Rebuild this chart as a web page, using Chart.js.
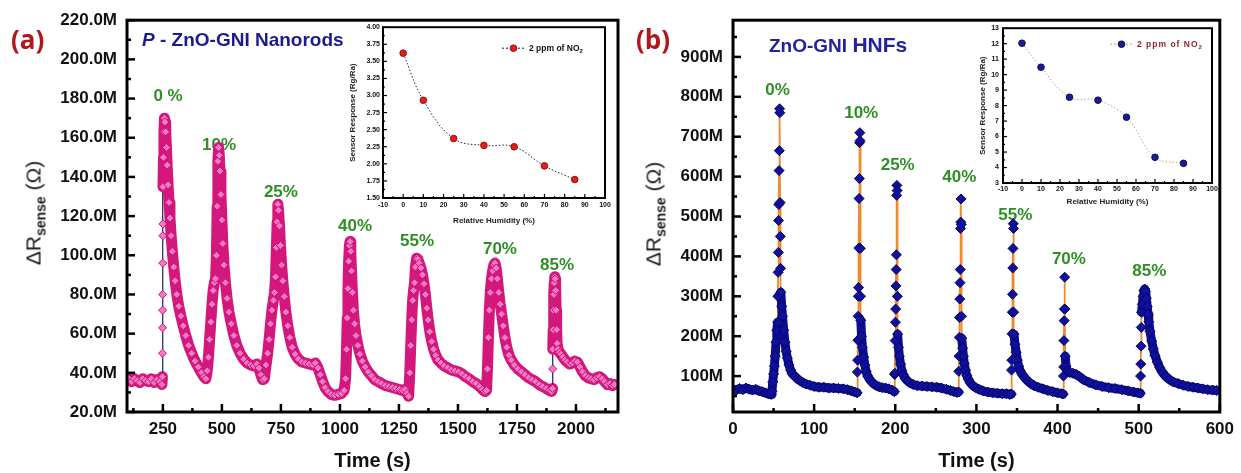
<!DOCTYPE html>
<html>
<head>
<meta charset="utf-8">
<title>Sensor response vs humidity</title>
<script src="https://cdn.jsdelivr.net/npm/chart.js@4.4.1/dist/chart.umd.min.js"></script>
<style>
  body { margin: 0; background: #fff; }
  #page { position: relative; width: 1241px; height: 473px; overflow: hidden; font-family: "Liberation Sans", Arial, sans-serif; }
  canvas { position: absolute; }
  .tag { position: absolute; font-family: "Open Sans", sans-serif; font-weight: 700; font-size: 26px; color: #b3151b; line-height: 1; }
  .title { position: absolute; font-weight: 700; white-space: nowrap; line-height: 1; }
  .ytitle { position: absolute; transform: translate(-50%, -50%) rotate(-90deg); white-space: nowrap; font-size: 21px; color: #1a1a1a; line-height: 1; }
  .ytitle sub { font-size: 14px; font-weight: 700; vertical-align: -5px; }
</style>
</head>
<body>
<div id="page">
  <canvas id="mainA" width="622" height="473" style="left:0;top:0"></canvas>
  <canvas id="mainB" width="619" height="473" style="left:622px;top:0"></canvas>
  <canvas id="insetA" width="275" height="215" style="left:340px;top:20px"></canvas>
  <canvas id="insetB" width="270" height="195" style="left:955px;top:20px"></canvas>

  <div class="tag" style="left:11px;top:26px">(a)</div>
  <div class="tag" style="left:636px;top:26px">(b)</div>
  <div class="title" style="left:142px;top:30px;font-size:19px;color:#1b1b8c"><i>P</i> - ZnO-GNI Nanorods</div>
  <div class="title" style="left:769px;top:34px;color:#2222a0"><span style="font-size:19px">ZnO-GNI </span><span style="font-size:21px">HNFs</span></div>
  <div class="ytitle" style="left:35px;top:213px">&Delta;R<sub>sense</sub> (&Omega;)</div>
  <div class="ytitle" style="left:655px;top:214px">&Delta;R<sub>sense</sub> (&Omega;)</div>
</div>

<script>
// ---- panel (a): P-ZnO-GNI nanorods, [time s, dR MOhm] ----
const traceA = [
  [105,37],[117,35.5],[129,37],[141,36],[153,35],[165,37],[177,36],[189,35.5],[201,37],[213,35],[225,36.5],[237,35.5],[246,34],
  [248,38],[248.3,50],[248.6,63],[248.9,72],[249.2,80],[249.5,96],[249.8,110],[250.1,116],[250.4,135],
  [252.5,150],[254.5,163],[256.5,170],[259,168],[262,163],[265,155],[268,146],[272,136],[276,127],[280,119],[285,110],[290,102],[296,94],[302,87],[309,80],[317,74],[326,69],[336,64],[347,59],[359,54],[372,50],[386,46],[400,43],[413,40],[424,38],[432,37],
  [438,41],[443,48],[448,57],[453,66],[458,75],[463,82],[468,86],[473,88],[477,100],[480,125],[483,148],[486,155],[489,151],[492,143],[496,131],[500,118],[504,106],[509,95],[515,86],[522,78],[530,71],[540,65],[551,59],[563,54],[577,50],[592,47],[607,45],[622,44],[636,43.5],[648,44.5],[657,42.5],[665,39],[673,36.5],[680,37],
  [687,44],[694,50],[700,57],[706,65],[712,72],[718,77],[723,81],[727,89],[731,104],[734,117],[737,126],[740,123],[744,115],[748,105],[753,95],[758,87],[764,79],[771,71],[779,64],[788,58],[798,53],[810,49.5],[824,47],[839,45.5],[854,45],[869,44.5],[884,44],[896,45],[907,42.5],[917,39],[927,35.5],[937,32.5],[949,30.5],[963,29],[978,28.5],[993,29],[1007,29.5],[1018,31],
  [1024,37],[1028,52],[1031,68],[1034,83],[1037,97],[1040,105],[1043,107],[1046,102],[1049,92],[1053,81],[1057,72],[1062,65],[1068,59],[1076,54],[1085,49.5],[1095,46],[1107,43],[1120,40.5],[1134,38.5],[1148,36.5],[1162,35.5],[1177,34.5],[1192,33.5],[1207,33],[1222,32.5],[1237,32],[1252,31.5],[1265,31],[1276,31.5],[1284,29.5],[1291,28],
  [1296,40],[1300,54],[1304,67],[1308,77],[1312,82],[1316,86],[1320,94],[1325,98.5],[1330,98],[1336,96],[1343,93.5],[1350,90],[1356,85.5],[1362,80],[1368,73],[1374,67],[1381,61],[1389,56],[1397,52],[1406,49],[1416,46.5],[1428,45],[1442,43.5],[1457,42.5],[1472,41.5],[1487,41],[1502,40.5],[1517,39.5],[1532,38],[1547,37],[1562,35.5],[1577,34.5],[1592,33],[1604,31.5],[1614,30.5],[1621,31],
  [1625,42],[1629,58],[1633,72],[1637,81],[1642,88],[1647,92],[1652,95],[1657,96],[1662,93.5],[1667,88],[1673,81],[1679,75],[1685,70],[1692,64],[1699,58],[1707,53],[1716,49],[1726,46.5],[1739,44],[1754,42],[1769,40.5],[1784,39],[1799,37.5],[1814,36.5],[1829,35.5],[1844,34],[1859,33],[1874,32],[1887,31],[1897,30.5],
  [1901,32],[1901.3,42],[1901.6,52],
  [1903.5,62],[1905,72],[1906.5,80],[1908,86],[1910,89],[1912,88],[1914,82],[1916,72],[1918,62],[1920,55],[1924,52],[1930,50.5],[1937,49.5],[1945,48],[1954,46.5],[1963,45.5],[1973,44.5],[1984,45],[1995,46],[2006,45.5],[2017,43],[2028,40.5],[2040,38.5],[2052,37.5],[2064,37],[2076,36.5],[2088,37.5],[2100,38],[2111,37],[2122,35.5],[2133,34],[2144,34.5],[2155,33.5],[2163,34]
];

// ---- panel (b): ZnO-GNI HNFs, [time s, dR MOhm] ----
const traceB = [
  [0,67],[4,65],[8,69],[12,66],[16,70],[20,67],[24,65],[28,67],[32,63],[36,61],[40,58],[44,55],[47,54],
  [48,62],[49,85],[50,105],[51,125],[52,150],[53,185],[54,215],[55,235],
  [55.3,300],[55.6,360],[55.9,410],[56.2,490],[56.5,530],[56.8,615],[57.1,665],[57.4,770],[57.7,760],[58,535],[58.3,450],[58.6,370],[58.9,310],
  [60,275],[61,250],[62.5,215],[64,185],[65.5,162],[67,145],[69,128],[71,115],[73,106],[76,100],[79,94],[82,89],[86,84],[90,80],[95,77],[100,74],[106,72],[112,72],[118,70],[124,70],[130,69],[136,68],[141,66],[146,63],[150,60],[153,58],
  [153.3,110],[153.6,140],[153.9,190],[154.2,250],[154.5,300],[154.8,322],[155.1,421],[155.4,545],[155.7,595],[156,685],[156.3,710],[156.6,690],[156.9,420],[157.2,300],[157.5,240],
  [158.5,200],[159.5,172],[161,148],[162.5,128],[164,112],[166,100],[169,90],[172,83],[176,77],[180,73],[184,71],[188,70],[192,68],[196,65],[199,61],
  [199.3,104],[199.6,107],[199.9,189],[200.2,235],[200.5,268],[200.8,326],[201.1,367],[201.4,404],[201.7,553],[202,578],[202.3,565],[202.6,300],[202.9,205],
  [204,172],[205,150],[206.5,130],[208,114],[210,103],[212,95],[215,88],[218,83],[222,79],[227,76],[233,75],[239,74],[245,73],[251,72],[257,70],[263,67],[268,64],[272,61],[276,59],[278,60],
  [278.3,112],[278.6,150],[278.9,197],[279.2,247],[279.5,293],[279.8,334],[280.1,367],[280.4,470],[280.7,486],[281,544],[281.3,480],[281.6,250],[281.9,195],
  [283,170],[284,150],[285,132],[286.5,115],[288,102],[290,92],[292.5,83],[295.5,76],[299,71],[303,67],[308,63],[314,60],[320,58],[326,57],[332,56],[337,56],[341,54],[343,55],
  [343.3,115],[343.6,140],[343.9,206],[344.2,260],[344.5,305],[344.8,371],[345.1,420],[345.4,482],[345.7,470],[346,260],[346.3,205],
  [347.5,180],[349,160],[350.5,140],[352,125],[354,113],[356.5,104],[359.5,96],[363,88],[367,81],[371,76],[376,72],[382,68],[388,64],[394,61],[400,58],[405,56],[407,55],
  [407.3,100],[407.6,123],[407.9,189],[408.2,239],[408.5,268],[408.8,348],[409.1,268],[409.4,150],
  [410.5,125],[412,113],[415,109],[419,107],[423,104],[427,99],[432,91],[439,84],[447,78],[455,74],[463,71],[471,69],[479,66],[487,63],[494,60],[499,58],[502,57],
  [502.3,100],[502.6,130],[502.9,175],[503.2,222],[503.5,260],
  [504.5,280],[505.5,300],[506.5,314],[507.5,318],[508.5,312],[509.5,295],[510.5,275],[511.5,255],[512.5,236],[514,212],[516,188],[518,168],[520,152],[523,135],[526,121],[529,110],[533,100],[538,91],[543,85],[549,81],[555,77],[561,74],[567,72],[573,70],[579,68],[585,66],[591,65],[596,64]
];

// humidity labels placed over the peaks (time, value)
const rhTextA = ['0 %', '10%', '25%', '40%', '55%', '70%', '85%'];
const rhTimeA = [272, 488, 750, 1064, 1327, 1678, 1920];
const rhValA = [181, 156, 132, 115, 107, 103, 95];
const rhTextB = ['0%', '10%', '25%', '40%', '55%', '70%', '85%'];
const rhTimeB = [55, 158, 203, 279, 348, 414, 513];
const rhValB = [816, 759, 628, 598, 504, 392, 363];

// insets: sensor response vs relative humidity
const humidity = [0, 10, 25, 40, 55, 70, 85];
const respA = [3.62, 2.93, 2.37, 2.27, 2.25, 1.97, 1.77];
const respB = [12.03, 10.48, 8.54, 8.35, 7.25, 4.66, 4.27];
const legendText = '2 ppm of NO';

// tick labels
const yTicksA = [20, 40, 60, 80, 100, 120, 140, 160, 180, 200, 220];
const xTicksA = [250, 500, 750, 1000, 1250, 1500, 1750, 2000];
const yTicksB = [100, 200, 300, 400, 500, 600, 700, 800, 900];
const xTicksB = [0, 100, 200, 300, 400, 500, 600];
const xTicksIn = [-10, 0, 10, 20, 30, 40, 50, 60, 70, 80, 90, 100];
const yTicksInA = [1.5, 1.75, 2, 2.25, 2.5, 2.75, 3, 3.25, 3.5, 3.75, 4];
const yTicksInB = [3, 4, 5, 6, 7, 8, 9, 10, 11, 12, 13];

const FAMILY = '"Liberation Sans", Arial, sans-serif';
Chart.defaults.font.family = FAMILY;
Chart.defaults.color = '#111';
Chart.defaults.animation = false;

// majors plus a minor tick half way between them
function withMinor(majors, min, max) {
  const step = majors[1] - majors[0];
  const minors = majors.map(v => v - step / 2).concat(majors[majors.length - 1] + step / 2);
  return majors.concat(minors).filter(v => v >= min - 1e-9 && v <= max + 1e-9).sort((a, b) => a - b);
}

function axis(min, max, majors, fmt, font, pad, extra) {
  return Object.assign({
    type: 'linear', min, max,
    grid: { display: false, drawTicks: false },
    border: { display: false },
    afterBuildTicks: s => { s.ticks = withMinor(majors, min, max).map(v => ({ value: v })); },
    ticks: {
      autoSkip: false, maxRotation: 0, padding: pad, font, color: '#111',
      callback: v => majors.some(m => Math.abs(m - v) < 1e-6) ? fmt(v) : ''
    }
  }, extra);
}

// box frame with inward ticks on bottom and left
function frame(lw, tw, major, minor) {
  return {
    id: 'frame',
    afterDraw(chart) {
      const { ctx, chartArea: a, scales: { x, y } } = chart;
      ctx.save();
      ctx.strokeStyle = '#000';
      ctx.lineWidth = tw;
      x.ticks.forEach(t => {
        const px = x.getPixelForValue(t.value);
        ctx.beginPath(); ctx.moveTo(px, a.bottom); ctx.lineTo(px, a.bottom - (t.label ? major : minor)); ctx.stroke();
      });
      y.ticks.forEach(t => {
        const py = y.getPixelForValue(t.value);
        ctx.beginPath(); ctx.moveTo(a.left, py); ctx.lineTo(a.left + (t.label ? major : minor), py); ctx.stroke();
      });
      ctx.lineWidth = lw;
      ctx.strokeRect(a.left, a.top, a.right - a.left, a.bottom - a.top);
      ctx.restore();
    }
  };
}

function rhLabels(text, ts, vs) {
  return {
    id: 'rhLabels',
    beforeDatasetsDraw(chart) {
      const { ctx, scales: { x, y } } = chart;
      ctx.save();
      ctx.font = 'bold 17px ' + FAMILY;
      ctx.fillStyle = '#2f8f25';
      ctx.textAlign = 'center';
      ctx.textBaseline = 'middle';
      text.forEach((s, i) => ctx.fillText(s, x.getPixelForValue(ts[i]), y.getPixelForValue(vs[i])));
      ctx.restore();
    }
  };
}

function insetLegend(dx, dy, lineColor, textColor, spacing) {
  return {
    id: 'insetLegend',
    afterDraw(chart) {
      const { ctx, chartArea: a } = chart;
      const ds = chart.data.datasets[0];
      const x0 = a.left + dx, y0 = a.top + dy, len = 23;
      ctx.save();
      ctx.strokeStyle = lineColor;
      ctx.lineWidth = 1;
      ctx.setLineDash([2, 2]);
      ctx.beginPath(); ctx.moveTo(x0, y0); ctx.lineTo(x0 + len, y0); ctx.stroke();
      ctx.setLineDash([]);
      ctx.beginPath(); ctx.arc(x0 + len / 2, y0, ds.pointRadius, 0, Math.PI * 2);
      ctx.fillStyle = ds.pointBackgroundColor; ctx.fill();
      ctx.strokeStyle = ds.pointBorderColor; ctx.stroke();
      ctx.fillStyle = textColor;
      ctx.font = 'bold 8.5px ' + FAMILY;
      ctx.letterSpacing = spacing;
      ctx.textBaseline = 'middle';
      ctx.fillText(legendText, x0 + len + 4, y0);
      const w = ctx.measureText(legendText).width;
      ctx.font = 'bold 6px ' + FAMILY;
      ctx.fillText('2', x0 + len + 4 + w, y0 + 3);
      ctx.restore();
    }
  };
}

const jump = (tr, c) => tr[c.p1DataIndex][0] - tr[c.p0DataIndex][0] < 0.8;
const tickFont = { size: 17, weight: 'bold' };
const xTitle = { display: true, text: 'Time (s)', color: '#111', font: { size: 20, weight: 'bold' }, padding: { top: 0, bottom: 0 } };

// ---- main chart (a) ----
new Chart(document.getElementById('mainA'), {
  type: 'line',
  data: {
    datasets: [{
      data: traceA.map(p => ({ x: p[0], y: p[1] })),
      borderColor: '#d3177c',
      borderWidth: 11,
      borderJoinStyle: 'round',
      borderCapStyle: 'round',
      segment: {
        borderColor: c => jump(traceA, c) ? '#1b1b6e' : undefined,
        borderWidth: c => jump(traceA, c) ? 1.2 : undefined
      },
      pointStyle: 'rectRot', pointRadius: 4, pointBorderWidth: 1,
      pointBackgroundColor: '#f27ac4', pointBorderColor: '#cf0f76',
      tension: 0
    }]
  },
  options: {
    responsive: false,
    layout: { autoPadding: false, padding: { left: 0, top: 16, right: 4, bottom: 0 } },
    plugins: { legend: { display: false }, tooltip: { enabled: false } },
    scales: {
      x: axis(98, 2178, xTicksA, v => String(v), tickFont, 7, { title: xTitle, afterFit: s => { s.height = 61; } }),
      y: axis(20, 220, yTicksA, v => v.toFixed(1) + 'M', tickFont, 10, { afterFit: s => { s.width = 127; } })
    }
  },
  plugins: [rhLabels(rhTextA, rhTimeA, rhValA), frame(3, 2.5, 8, 4)]
});

// ---- main chart (b) ----
new Chart(document.getElementById('mainB'), {
  type: 'line',
  data: {
    datasets: [{
      data: traceB.map(p => ({ x: p[0], y: p[1] })),
      borderColor: '#0d0d8f',
      borderWidth: 9,
      borderJoinStyle: 'round',
      borderCapStyle: 'round',
      segment: {
        borderColor: c => jump(traceB, c) ? '#ec8a2e' : undefined,
        borderWidth: c => jump(traceB, c) ? 1.8 : undefined
      },
      pointStyle: 'rectRot', pointRadius: 5, pointBorderWidth: 1,
      pointBackgroundColor: '#10109c', pointBorderColor: '#06066a',
      tension: 0
    }]
  },
  options: {
    responsive: false,
    layout: { autoPadding: false, padding: { left: 0, top: 16, right: 18, bottom: 0 } },
    plugins: { legend: { display: false }, tooltip: { enabled: false } },
    scales: {
      x: axis(0, 600, xTicksB, v => String(v), tickFont, 7, { title: xTitle, afterFit: s => { s.height = 61; } }),
      y: axis(10, 992, yTicksB, v => v + 'M', tickFont, 10, { afterFit: s => { s.width = 111; } })
    }
  },
  plugins: [rhLabels(rhTextB, rhTimeB, rhValB), frame(3, 2.5, 8, 4)]
});

// ---- insets ----
function inset(id, resp, yMin, yMax, yMajors, yFmt, lineColor, dotFill, dotBorder, box, legend) {
  const smallFont = { size: 7, weight: 'bold' };
  const titleFont = { size: 8, weight: 'bold' };
  new Chart(document.getElementById(id), {
    type: 'line',
    data: {
      labels: humidity,
      datasets: [{
        data: humidity.map((h, i) => ({ x: h, y: resp[i] })),
        borderColor: lineColor, borderWidth: 1, borderDash: [1.5, 2],
        tension: 0.4,
        pointStyle: 'circle', pointRadius: 3.3, pointBorderWidth: 1,
        pointBackgroundColor: dotFill, pointBorderColor: dotBorder
      }]
    },
    options: {
      responsive: false,
      layout: { autoPadding: false, padding: { left: 0, top: box.top, right: box.right, bottom: 0 } },
      plugins: { legend: { display: false }, tooltip: { enabled: false } },
      scales: {
        x: axis(-10, 100, xTicksIn, v => String(v), smallFont, box.xPad, {
          title: { display: true, text: 'Relative Humidity (%)', color: '#222', font: titleFont, padding: { top: 0, bottom: box.xTitle } },
          afterFit: s => { s.height = box.xh; }
        }),
        y: axis(yMin, yMax, yMajors, yFmt, smallFont, box.yPad, {
          title: { display: true, text: 'Sensor Response (Rg/Ra)', color: '#222', font: titleFont, padding: { top: box.yTitle, bottom: 0 } },
          afterFit: s => { s.width = box.yw; }
        })
      }
    },
    plugins: [frame(2, 1.2, 4, 2), legend]
  });
}

inset('insetA', respA, 1.5, 4, yTicksInA, v => v.toFixed(2), '#1a1a5e', '#e0201c', '#9a0d0d',
  { top: 6, right: 10, xh: 37, yw: 43, xPad: 3, yPad: 3, xTitle: 9, yTitle: 7.5 },
  insetLegend(119, 21, '#1a1a5e', '#111', '0px'));
inset('insetB', respB, 3, 13, yTicksInB, v => String(v), '#c9a06c', '#1a1a9a', '#0a0a55',
  { top: 7, right: 13, xh: 32, yw: 48, xPad: 2, yPad: 4, xTitle: 8, yTitle: 23 },
  insetLegend(107, 16, '#c9a06c', '#8b1f1f', '1px'));
</script>
</body>
</html>
